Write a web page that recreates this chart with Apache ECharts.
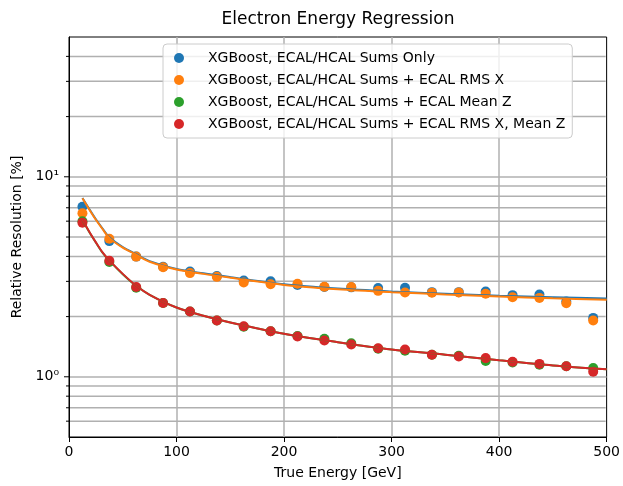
<!DOCTYPE html>
<html>
<head>
<meta charset="utf-8">
<script src="https://cdn.jsdelivr.net/npm/echarts@6/dist/echarts.min.js"></script>
<style>
  html, body { margin: 0; padding: 0; background: #fff; }
  #chart { width: 623px; height: 486px; }
</style>
</head>
<body>
<div id="chart"></div>
<script>
// bin centres (GeV)
const energy = [12.5, 37.5, 62.5, 87.5, 112.5, 137.5, 162.5, 187.5, 212.5, 237.5,
  262.5, 287.5, 312.5, 337.5, 362.5, 387.5, 412.5, 437.5, 462.5, 487.5];

const sumsOnly = [7.09, 4.77, 3.99, 3.55, 3.36, 3.19, 3.03, 3.0, 2.88, 2.81,
  2.80, 2.78, 2.79, 2.65, 2.65, 2.67, 2.56, 2.58, 2.38, 1.97];
const sumsRmsX = [6.57, 4.90, 3.99, 3.53, 3.30, 3.16, 2.96, 2.90, 2.92, 2.82,
  2.81, 2.69, 2.64, 2.63, 2.64, 2.60, 2.50, 2.48, 2.33, 1.91];
const sumsMeanZ = [6.0, 3.75, 2.79, 2.34, 2.12, 1.91, 1.78, 1.69, 1.60, 1.55,
  1.47, 1.38, 1.35, 1.29, 1.275, 1.20, 1.18, 1.15, 1.13, 1.105];
const sumsRmsXMeanZ = [5.89, 3.80, 2.81, 2.34, 2.12, 1.91, 1.79, 1.69, 1.59, 1.52,
  1.45, 1.39, 1.37, 1.29, 1.265, 1.24, 1.19, 1.16, 1.13, 1.06];

// fitted resolution curves
const fitEnergy = [12.5, 19, 25, 31, 37.5, 50, 62.5, 75, 100, 125, 150, 200, 250, 300, 350, 400, 450, 500];
const fitSumsOnly = [7.84, 6.88, 6.13, 5.53, 4.98, 4.45, 4.10, 3.79, 3.46, 3.29, 3.15, 2.90, 2.76, 2.67, 2.60, 2.54, 2.50, 2.46];
const fitSumsRmsX = [7.82, 6.85, 6.10, 5.50, 4.95, 4.42, 4.08, 3.76, 3.44, 3.27, 3.13, 2.88, 2.74, 2.65, 2.58, 2.52, 2.47, 2.43];
const fitSumsMeanZ = [6.08, 5.28, 4.69, 4.19, 3.81, 3.26, 2.85, 2.57, 2.22, 2.02, 1.87, 1.64, 1.49, 1.37, 1.29, 1.21, 1.14, 1.09];
const fitSumsRmsXMeanZ = [6.10, 5.30, 4.70, 4.20, 3.82, 3.27, 2.85, 2.57, 2.22, 2.02, 1.87, 1.64, 1.49, 1.37, 1.29, 1.21, 1.14, 1.09];

const names = [
  "XGBoost, ECAL/HCAL Sums Only",
  "XGBoost, ECAL/HCAL Sums + ECAL RMS X",
  "XGBoost, ECAL/HCAL Sums + ECAL Mean Z",
  "XGBoost, ECAL/HCAL Sums + ECAL RMS X, Mean Z"
];
const colors = ["#1f77b4", "#ff7f0e", "#2ca02c", "#d62728"];

// y ticks of the log axis (major ones get labels from the axis itself)
const yMajorTicks = [1, 10];
const yMinorTicks = [0.6, 0.7, 0.8, 0.9, 2, 3, 4, 5, 6, 7, 8, 9, 20, 30, 40];

const font = "DejaVu Sans";
const pairs = (xs, ys) => xs.map((x, i) => [x, ys[i]]);

const scatterSets = [sumsOnly, sumsRmsX, sumsMeanZ, sumsRmsXMeanZ];
const fitSets = [fitSumsOnly, fitSumsRmsX, fitSumsMeanZ, fitSumsRmsXMeanZ];

const series = [];

// minor grid lines + all y tick marks
series.push({
  type: "custom",
  silent: true,
  clip: false,
  z: 1,
  data: yMinorTicks.map(v => [0, v, 0]).concat(yMajorTicks.map(v => [0, v, 1])),
  renderItem: function (params, api) {
    const v = api.value(1);
    const major = api.value(2) === 1;
    const p0 = api.coord([0, v]);
    const p1 = api.coord([500, v]);
    const children = [{
      type: "line",
      shape: { x1: p0[0] - (major ? 5 : 3), y1: p0[1], x2: p0[0], y2: p0[1] },
      style: { stroke: "#000", lineWidth: 1 }
    }];
    if (!major) {
      children.push({
        type: "line",
        shape: { x1: p0[0] + 1, y1: p0[1], x2: p1[0] - 1, y2: p1[1] },
        style: { stroke: "#b0b0b0", lineWidth: 1.5 }
      });
    }
    return { type: "group", children: children };
  }
});

scatterSets.forEach((d, i) => {
  series.push({
    name: names[i],
    type: "scatter",
    data: pairs(energy, d),
    symbol: "circle",
    symbolSize: 10,
    itemStyle: { color: colors[i], opacity: 1 },
    z: 2
  });
});

fitSets.forEach((d, i) => {
  series.push({
    name: "fit " + i,
    type: "line",
    data: pairs(fitEnergy, d),
    smooth: 0.3,
    showSymbol: false,
    lineStyle: { color: colors[i], width: 2 },
    itemStyle: { color: colors[i] },
    z: 3
  });
});

const chart = echarts.init(document.getElementById("chart"), null, { renderer: "canvas" });
chart.setOption({
  animation: false,
  backgroundColor: "#fff",
  textStyle: { fontFamily: font },
  title: {
    text: "Electron Energy Regression",
    left: 338,
    top: 11,
    padding: 0,
    textAlign: "center",
    textStyle: { fontFamily: font, fontSize: 17, fontWeight: "normal", color: "#000" }
  },
  legend: {
    data: names,
    orient: "vertical",
    left: 163,
    top: 44,
    padding: [6, 7, 6, 11],
    itemGap: 6,
    itemWidth: 14,
    itemHeight: 10,
    icon: "circle",
    backgroundColor: "rgba(255,255,255,0.8)",
    borderColor: "#cccccc",
    borderWidth: 1,
    borderRadius: 4,
    textStyle: { fontFamily: font, fontSize: 14, color: "#000", lineHeight: 16, padding: [0, 0, 0, 17] }
  },
  grid: {
    left: 69, right: 15, top: 37, bottom: 49,
    show: true, borderColor: "#000", borderWidth: 1, backgroundColor: "transparent"
  },
  xAxis: {
    type: "value",
    min: 0, max: 500, interval: 100,
    name: "True Energy [GeV]",
    nameLocation: "middle",
    nameGap: 29,
    nameTextStyle: { fontFamily: font, fontSize: 14, color: "#000" },
    axisLine: { show: true, lineStyle: { color: "#000", width: 1 } },
    axisTick: { show: true, length: 5, lineStyle: { color: "#000" } },
    axisLabel: { fontFamily: font, fontSize: 14, color: "#000", margin: 8 },
    splitLine: { show: true, showMinLine: false, showMaxLine: false, lineStyle: { color: "#b0b0b0", width: 1.5 } }
  },
  yAxis: {
    type: "log",
    logBase: 10,
    min: 0.5, max: 50,
    name: "Relative Resolution [%]",
    nameLocation: "middle",
    nameGap: 44,
    nameTextStyle: { fontFamily: font, fontSize: 14, color: "#000" },
    axisLine: { show: true, lineStyle: { color: "#000", width: 1 } },
    axisTick: { show: false },
    axisLabel: {
      fontFamily: font, fontSize: 14, color: "#000", margin: 10,
      showMinLabel: false, showMaxLabel: false,
      formatter: function (v) {
        if (Math.abs(v - 1) < 1e-9) return "10\u2070";
        if (Math.abs(v - 10) < 1e-9) return "10\u00b9";
        return "";
      }
    },
    splitLine: { show: true, showMinLine: false, showMaxLine: false, lineStyle: { color: "#b0b0b0", width: 1.5 } }
  },
  series: series
});
</script>
</body>
</html>
